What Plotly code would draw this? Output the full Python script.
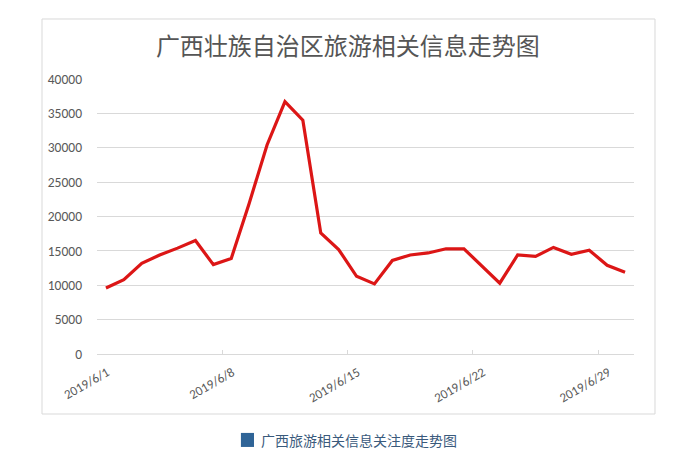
import plotly.graph_objects as go

dates = ["2019/6/1", "2019/6/2", "2019/6/3", "2019/6/4", "2019/6/5", "2019/6/6",
         "2019/6/7", "2019/6/8", "2019/6/9", "2019/6/10", "2019/6/11", "2019/6/12",
         "2019/6/13", "2019/6/14", "2019/6/15", "2019/6/16", "2019/6/17", "2019/6/18",
         "2019/6/19", "2019/6/20", "2019/6/21", "2019/6/22", "2019/6/23", "2019/6/24",
         "2019/6/25", "2019/6/26", "2019/6/27", "2019/6/28", "2019/6/29", "2019/6/30"]
values = [9600, 10800, 13200, 14400, 15400, 16500, 13000, 13900, 21900, 30400,
          36700, 34000, 17600, 15200, 11300, 10200, 13600, 14400, 14700, 15300,
          15300, 12800, 10300, 14400, 14200, 15500, 14500, 15100, 12900, 11900]
x_tick_labels = ["2019/6/1", "2019/6/8", "2019/6/15", "2019/6/22", "2019/6/29"]
y_ticks = [0, 5000, 10000, 15000, 20000, 25000, 30000, 35000, 40000]

title_text = "广西壮族自治区旅游相关信息走势图"
caption_text = "广西旅游相关信息关注度走势图"

LATIN = "Calibri, Carlito, Lato, 'Open Sans', sans-serif"
CJK = "'Noto Sans CJK SC', 'Noto Sans', sans-serif"

x_idx = list(range(len(dates)))
# Excel-style category axis: tick marks sit on the left boundary of each labelled category
tick_pos = [dates.index(lbl) - 0.5 for lbl in x_tick_labels]

fig = go.Figure()
fig.add_trace(go.Scatter(
    x=x_idx, y=values, mode="lines",
    line=dict(color="#dc1616", width=3.2),
    showlegend=False, customdata=dates,
    hovertemplate="%{customdata}: %{y}<extra></extra>",
))

fig.update_layout(
    width=693, height=460,
    margin=dict(l=97, r=59, t=79, b=106),
    paper_bgcolor="white", plot_bgcolor="white",
    title=dict(text=title_text, x=0.502, y=0.898, xanchor="center", yanchor="middle",
               font=dict(family=CJK, size=24, color="#555555")),
    xaxis=dict(
        range=[-0.5, len(dates) - 0.5],
        tickmode="array", tickvals=tick_pos, ticktext=x_tick_labels,
        ticks="inside", ticklen=4, tickcolor="#d9d9d9",
        tickangle=-30, ticklabelshift=10, ticklabelstandoff=5,
        showgrid=False, showline=True, linecolor="#d9d9d9", linewidth=1,
        zeroline=False,
        tickfont=dict(family=LATIN, size=13, color="#595959"),
        fixedrange=True,
    ),
    yaxis=dict(
        range=[0, 40000], tickmode="array", tickvals=y_ticks,
        ticktext=[str(v) for v in y_ticks],
        showgrid=True, gridcolor="#d9d9d9", gridwidth=1, zeroline=False,
        showline=False, ticks="", ticklabelstandoff=14,
        tickfont=dict(family=LATIN, size=13.5, color="#595959"),
        fixedrange=True,
    ),
    shapes=[
        dict(type="rect", xref="paper", yref="paper",
             x0=-0.1024, x1=1.0391, y0=-0.2182, y1=1.2182,
             line=dict(color="#d9d9d9", width=1), fillcolor="rgba(0,0,0,0)", layer="below"),
        dict(type="rect", xref="paper", yref="paper",
             x0=0.268, x1=0.2924, y0=-0.338, y1=-0.287,
             line=dict(width=0), fillcolor="#2f6497"),
    ],
    annotations=[
        dict(text=caption_text, xref="paper", yref="paper", x=0.3017, y=-0.3127,
             xanchor="left", yanchor="middle", showarrow=False,
             font=dict(family=CJK, size=14, color="#3a5a7c")),
    ],
)

fig.write_html("out.html")
